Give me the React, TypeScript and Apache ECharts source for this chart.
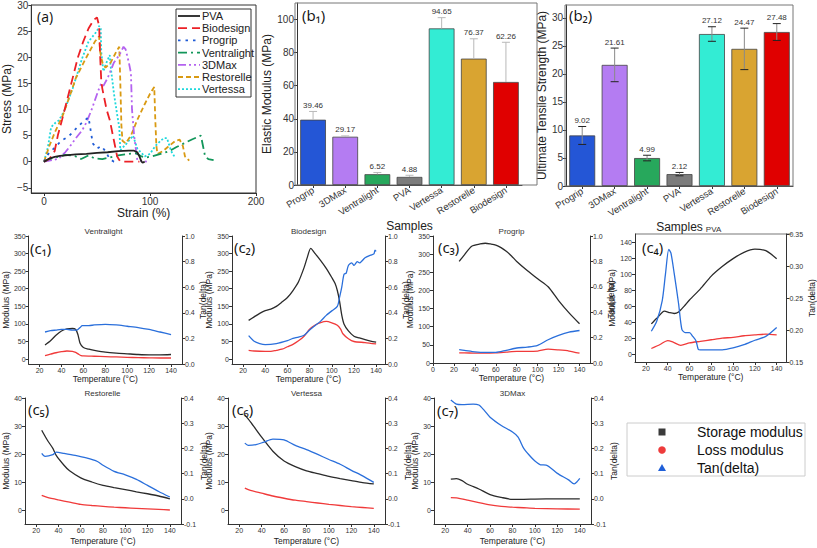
import React, { useEffect, useRef } from "react";
import * as echarts from "echarts";

const FONT = "'Liberation Sans', Arial, sans-serif";

// ---------- (a) tensile curves: [strain %, stress MPa] ----------
const tensileNames = ["PVA", "Biodesign", "Progrip", "Ventralight", "3DMax", "Restorelle", "Vertessa"];
const tensilePVA = [[0,0],[5,0.6],[10,0.9],[15,1.1],[20,1.2],[30,1.4],[40,1.5],[50,1.7],[60,1.8],[70,2],[80,2.1],[85,2.1],[88,1.8],[90,1],[92,0],[93,-0.2],[95,0]];
const tensileBiodesign = [[0,0],[5,0.5],[10,2],[13,5],[17,8],[22,12],[27,16],[32,20],[37,23],[42,25.5],[47,27.2],[50,27.6],[52,26],[53,20],[54,15.5],[55,14],[57,12],[59,10],[62,8],[65,5],[67,3],[69,1],[72,0],[85,0],[90,0]];
const tensileProgrip = [[0,0],[5,1.8],[11,2.8],[16,4],[23,4.8],[31,6.5],[36,7.5],[42,8.5],[44,6],[46,3.5],[50,2.5],[54,3],[58,2],[62,0.5],[66,0],[70,0]];
const tensileVentralight = [[0,0],[5,0.5],[10,0.8],[15,1],[20,1.3],[25,1.2],[30,1],[35,0.5],[38,0.8],[42,1.2],[48,0.6],[55,0.5],[62,0.8],[70,1.2],[80,1.5],[87,1.6],[92,1],[96,0.8],[102,1],[110,1.5],[118,2],[125,2.8],[132,3.5],[140,4.3],[148,5],[150,3],[152,1],[155,0.5],[160,0.3]];
const tensile3DMax = [[0,0],[8,0.3],[14,0.6],[20,1.8],[24,2.8],[30,4.5],[36,6],[40,7.5],[45,10],[51,13.5],[54,15],[56,14.5],[60,16],[63,17.5],[66,19],[71,20.4],[75,22],[77,21.5],[80,19],[82,17],[83,10],[85,5],[88,0.3],[97,0]];
const tensileRestorelle = [[0,0],[5,3],[10,5.5],[18,9],[25,13],[30,16],[40,20],[48,23],[52,24],[53,21],[55,19],[58,18],[63,19],[68,21],[71,22],[72,15],[73,7],[74,4],[77,3.5],[82,5],[88,8],[95,11],[100,13],[104,14.3],[105,8],[106,3],[107,1.5],[112,2],[118,3],[124,4],[128,4.2],[131,3],[133,1],[137,0.2]];
const tensileVertessa = [[0,0],[3.7,2.8],[6.7,6.6],[11,7.5],[14,7.9],[19,9.7],[27,14],[36,19.8],[42,23],[50,25],[52,26],[53.5,25.5],[54,21],[56,17.3],[59,19],[62,20.4],[63,18],[66,13],[69,9],[71,6.6],[72,2.2],[78,3.5],[84,5],[88,2.5],[95,1],[100,1.5],[105,3],[110,4],[113,4.5],[116,4.5],[120,2],[123,1]];
const tensileData = [tensilePVA, tensileBiodesign, tensileProgrip, tensileVentralight, tensile3DMax, tensileRestorelle, tensileVertessa];
const strainTicks = [0, 100, 200];
const stressTicks = [-5, 0, 5, 10, 15, 20, 25, 30];

// ---------- (b) bars ----------
const samples = ["Progrip", "3DMax", "Ventralight", "PVA", "Vertessa", "Restorelle", "Biodesign"];
const modulusValues = [39.46, 29.17, 6.52, 4.88, 94.65, 76.37, 62.26];
const modulusErrors = [5, 0.5, 1, 1, 6.5, 12, 24];
const utsValues = [9.02, 21.61, 4.99, 2.12, 27.12, 24.47, 27.48];
const utsErrors = [1.6, 3, 0.5, 0.3, 1.3, 3.7, 1.5];
const modulusTicks = [0, 20, 40, 60, 80, 100];
const utsTicks = [0, 5, 10, 15, 20, 25, 30];

// ---------- (c) DMA: [temperature °C, value] ----------
const c1Storage = [[25,40],[30,52],[35,68],[40,80],[45,86],[50,87],[53,84],[55,70],[57,45],[60,33],[65,28],[70,25],[80,20],[90,17],[100,15],[110,13],[120,12],[130,12],[140,13]];
const c1Loss = [[25,10],[30,14],[35,18],[40,21],[45,23],[50,22],[53,19],[56,13],[58,10],[60,9],[70,8],[80,7],[90,6],[100,5],[110,4],[120,3.5],[130,3],[140,3]];
const c1Tan = [[25,0.25],[30,0.26],[35,0.265],[40,0.27],[45,0.27],[50,0.265],[54,0.265],[57,0.285],[59,0.3],[65,0.3],[70,0.305],[80,0.31],[90,0.305],[100,0.295],[110,0.285],[120,0.27],[130,0.25],[140,0.23]];

const c2Storage = [[25,110],[30,120],[35,130],[40,138],[45,142],[50,150],[55,162],[60,175],[65,195],[70,220],[75,260],[78,290],[81,315],[85,300],[90,280],[95,258],[100,232],[103,215],[105,195],[107,165],[109,125],[111,100],[115,80],[120,65],[125,60],[130,55],[135,51],[140,48]];
const c2Loss = [[25,25],[30,23],[40,22],[45,22],[50,25],[55,28],[60,35],[65,42],[70,52],[75,65],[80,85],[85,97],[90,104],[95,107],[100,103],[105,96],[108,85],[110,72],[115,58],[120,50],[130,47],[140,43]];
const c2Tan = [[25,0.222],[30,0.178],[35,0.16],[40,0.152],[50,0.16],[60,0.183],[65,0.2],[70,0.21],[75,0.225],[80,0.265],[85,0.3],[90,0.335],[95,0.38],[100,0.415],[105,0.45],[107,0.52],[109,0.6],[111,0.7],[113,0.71],[115,0.77],[118,0.79],[120,0.77],[123,0.8],[125,0.79],[130,0.83],[135,0.85],[138,0.86],[139,0.89],[140,0.88]];

const c3Storage = [[25,280],[30,298],[37,322],[45,328],[50,330],[55,328],[60,325],[65,318],[70,308],[75,295],[80,280],[90,255],[100,232],[110,210],[120,172],[130,138],[140,108]];
const c3Loss = [[25,28],[30,28],[40,27],[50,27],[60,28],[70,30],[80,32],[90,32],[100,33],[110,38],[120,36],[130,33],[140,27]];
const c3Tan = [[25,0.105],[30,0.1],[40,0.088],[50,0.083],[60,0.083],[70,0.1],[80,0.118],[90,0.125],[100,0.139],[110,0.183],[120,0.217],[130,0.243],[140,0.256]];

const c4Storage = [[25,38],[30,45],[37,54],[42,52],[46,51],[50,53],[55,60],[60,68],[70,82],[80,98],[90,110],[100,120],[110,128],[120,132],[130,130],[140,120]];
const c4Loss = [[25,7],[33,12],[40,17],[45,15],[52,11],[60,14],[70,16],[80,18],[90,20],[100,21],[110,23],[120,24],[130,25],[140,24]];
const c4Tan = [[25,0.198],[30,0.214],[35,0.246],[38,0.288],[41,0.326],[43,0.32],[46,0.288],[50,0.241],[53,0.201],[56,0.196],[60,0.196],[63,0.19],[66,0.183],[68,0.17],[70,0.169],[80,0.169],[90,0.169],[100,0.172],[110,0.177],[120,0.184],[130,0.19],[140,0.204]];

const c5Storage = [[25,28.5],[30,25],[35,22],[38,19.5],[45,16],[50,14],[60,11.5],[70,10],[80,8.8],[90,8],[100,7.3],[110,6.5],[120,5.8],[130,5],[140,4]];
const c5Loss = [[25,5.2],[30,4.5],[40,3.6],[50,2.8],[60,2],[70,1.6],[80,1.3],[90,1],[100,0.8],[110,0.6],[120,0.4],[130,0.2],[140,0]];
const c5Tan = [[25,0.18],[28,0.168],[35,0.175],[38,0.185],[45,0.18],[55,0.172],[65,0.162],[75,0.148],[80,0.133],[90,0.109],[100,0.095],[110,0.077],[120,0.053],[130,0.029],[140,0.007]];

const c6Storage = [[25,34],[30,31.5],[40,26],[50,21],[60,17.5],[70,15.5],[80,14],[90,13],[100,12],[110,11.2],[120,10.5],[130,9.8],[140,9.3]];
const c6Loss = [[25,7.8],[30,7],[40,6],[50,5],[60,4.2],[70,3.5],[80,3],[90,2.5],[100,2],[110,1.6],[120,1.2],[130,0.9],[140,0.6]];
const c6Tan = [[25,0.221],[28,0.212],[35,0.215],[42,0.225],[50,0.237],[60,0.234],[70,0.212],[80,0.195],[90,0.176],[100,0.156],[110,0.137],[120,0.113],[130,0.091],[140,0.065]];

const c7Storage = [[25,11],[30,11.2],[35,10.5],[40,9.2],[50,7.5],[60,5.5],[70,4.5],[80,3.8],[90,3.8],[100,3.9],[120,4],[140,4]];
const c7Loss = [[25,4.4],[30,4.3],[40,3.5],[50,2.6],[60,1.8],[70,1.3],[80,1],[90,0.8],[100,0.6],[120,0.4],[140,0.3]];
const c7Tan = [[25,0.392],[30,0.376],[35,0.374],[45,0.376],[50,0.372],[55,0.35],[60,0.324],[70,0.291],[80,0.265],[85,0.245],[90,0.2],[95,0.173],[100,0.15],[105,0.135],[110,0.134],[120,0.101],[130,0.075],[135,0.059],[138,0.07],[140,0.081]];

const tempTicks20 = [20, 40, 60, 80, 100, 120, 140];
const tempTicks0 = [0, 20, 40, 60, 80, 100, 120, 140];
const modTicks350 = [0, 50, 100, 150, 200, 250, 300, 350];
const modTicks140 = [0, 20, 40, 60, 80, 100, 120, 140];
const modTicks40 = [0, 10, 20, 30, 40];
const tanTicks1 = [0, 0.2, 0.4, 0.6, 0.8, 1.0];
const tanTicksPVA = [0.15, 0.2, 0.25, 0.3, 0.35];
const tanTicksRow2 = [-0.1, 0, 0.1, 0.2, 0.3, 0.4];
const dmaLegendNames = ["Storage modulus", "Loss modulus", "Tan(delta)"];

// ---------- styles / layout ----------
const tensileStyles = [
  { color: "#222222", dash: null as any },
  { color: "#ec2026", dash: [9, 5] },
  { color: "#1f5bd6", dash: [2.5, 5] },
  { color: "#12965a", dash: [9, 4, 2, 4] },
  { color: "#b463f0", dash: [8, 3, 2, 3, 2, 3] },
  { color: "#d99a12", dash: [5, 3] },
  { color: "#1ed8dc", dash: [2, 2] },
];
const barColors = ["#2456d6", "#b47cf2", "#27a85c", "#7c7c7c", "#33ecd4", "#d9a431", "#e00000"];
const DMA_COLORS = { storage: "#2b2b2b", loss: "#f03a3a", tan: "#2a6fdb" };

const dmaPanels = [
  { title: "Ventralight", tag: "(c\u2081)", left: 25, top: 236, width: 157, height: 128, xMin: 10, xMax: 150, xTicks: tempTicks20, yMin: -14, yMax: 350, yTicks: modTicks350, rMin: 0, rMax: 1, rTicks: tanTicks1, rDec: 1, storage: c1Storage, loss: c1Loss, tan: c1Tan, tagX: 30, tagY: 248, rGap: 11 },
  { title: "Biodesign", tag: "(c\u2082)", left: 232, top: 236, width: 153, height: 128, xMin: 10, xMax: 148, xTicks: tempTicks20, yMin: -14, yMax: 350, yTicks: modTicks350, rMin: 0, rMax: 1, rTicks: tanTicks1, rDec: 1, storage: c2Storage, loss: c2Loss, tan: c2Tan, tagX: 234, tagY: 247, rGap: 11 },
  { title: "Progrip", tag: "(c\u2083)", left: 433, top: 236, width: 157, height: 127, xMin: 0, xMax: 150, xTicks: tempTicks0, yMin: 0, yMax: 350, yTicks: modTicks350, rMin: 0, rMax: 1, rTicks: tanTicks1, rDec: 1, storage: c3Storage, loss: c3Loss, tan: c3Tan, tagX: 438, tagY: 247, rGap: 11 },
  { title: "PVA", tag: "(c\u2084)", left: 635, top: 234, width: 157, height: 128, xMin: 10, xMax: 149, xTicks: tempTicks20, yMin: -10, yMax: 151, yTicks: modTicks140, rMin: 0.15, rMax: 0.35, rTicks: tanTicksPVA, rDec: 2, storage: c4Storage, loss: c4Loss, tan: c4Tan, tagX: 642, tagY: 247, topBorder: true, rGap: 16 },
  { title: "Restorelle", tag: "(c\u2085)", left: 24, top: 398, width: 157, height: 126, xMin: 10, xMax: 150, xTicks: tempTicks20, yMin: -5, yMax: 40, yTicks: modTicks40, rMin: -0.1, rMax: 0.4, rTicks: tanTicksRow2, rDec: 1, storage: c5Storage, loss: c5Loss, tan: c5Tan, tagX: 28, tagY: 409, rGap: 15 },
  { title: "Vertessa", tag: "(c\u2086)", left: 228, top: 398, width: 157, height: 126, xMin: 10, xMax: 150, xTicks: tempTicks20, yMin: -5, yMax: 40, yTicks: modTicks40, rMin: -0.1, rMax: 0.4, rTicks: tanTicksRow2, rDec: 1, storage: c6Storage, loss: c6Loss, tan: c6Tan, tagX: 232, tagY: 409, rGap: 15 },
  { title: "3DMax", tag: "(c\u2087)", left: 434, top: 398, width: 157, height: 126, xMin: 10, xMax: 150, xTicks: tempTicks20, yMin: -5, yMax: 40, yTicks: modTicks40, rMin: -0.1, rMax: 0.4, rTicks: tanTicksRow2, rDec: 1, storage: c7Storage, loss: c7Loss, tan: c7Tan, tagX: 437, tagY: 410, rGap: 15 },
];

const AX = "#333";
const fmtMinus = (v: number, dec = 0) => {
  const s = Math.abs(v).toFixed(dec);
  return v < 0 ? "\u2212" + s : s;
};

function valAxis(o: any) {
  const { gridIndex, min, max, ticks, fontSize, fmt, name, nameGap, nameSize, position, tickLen } = o;
  return {
    type: "value",
    gridIndex,
    min,
    max,
    position,
    axisLine: { show: true, onZero: false, lineStyle: { color: AX, width: 1 } },
    axisTick: { show: true, customValues: ticks, length: tickLen ?? 3, lineStyle: { color: AX } },
    axisLabel: { customValues: ticks, fontSize, color: "#333", fontFamily: FONT, margin: 3, formatter: fmt },
    splitLine: { show: false },
    name,
    nameLocation: "middle",
    nameGap,
    nameTextStyle: { fontSize: nameSize, color: "#222", fontFamily: FONT },
  };
}

function errorSeries(xi: number, values: number[], errors: number[], lower: boolean, stemColor: string, capColor: string) {
  return {
    type: "custom",
    xAxisIndex: xi,
    yAxisIndex: xi,
    z: 5,
    silent: true,
    data: values.map((v, i) => [i, v, errors[i]]),
    renderItem: (_p: any, api: any) => {
      const i = api.value(0);
      const v = api.value(1);
      const e = api.value(2);
      const top = api.coord([i, v + e]);
      const bot = api.coord([i, lower ? v - e : v]);
      const hw = 4;
      const children: any[] = [
        { type: "line", shape: { x1: top[0], y1: top[1], x2: bot[0], y2: bot[1] }, style: { stroke: stemColor, lineWidth: 1 } },
        { type: "line", shape: { x1: top[0] - hw, y1: top[1], x2: top[0] + hw, y2: top[1] }, style: { stroke: capColor, lineWidth: 1 } },
        {
          type: "text",
          style: { text: v.toFixed(2), x: top[0], y: top[1] - 2, align: "center", verticalAlign: "bottom", fontSize: 8, fill: "#333", fontFamily: FONT },
        },
      ];
      if (lower) {
        children.push({ type: "line", shape: { x1: bot[0] - hw, y1: bot[1], x2: bot[0] + hw, y2: bot[1] }, style: { stroke: capColor, lineWidth: 1 } });
      }
      return { type: "group", children };
    },
  };
}

function buildOption() {
  const grid: any[] = [];
  const xAxis: any[] = [];
  const yAxis: any[] = [];
  const series: any[] = [];
  const graphic: any[] = [];

  // ----- (a) -----
  grid.push({ left: 25, top: 4, width: 231, height: 189, show: true, borderColor: AX, borderWidth: 1, backgroundColor: "transparent" });
  xAxis.push(valAxis({ gridIndex: 0, min: -12, max: 200, ticks: strainTicks, fontSize: 10, fmt: (v: number) => fmtMinus(v), name: "Strain (%)", nameGap: 14, nameSize: 12 }));
  yAxis.push(valAxis({ gridIndex: 0, min: -6, max: 30, ticks: stressTicks, fontSize: 10, fmt: (v: number) => fmtMinus(v), name: "Stress (MPa)", nameGap: 13, nameSize: 12 }));
  tensileNames.forEach((n, k) => {
    const st = tensileStyles[k];
    series.push({
      type: "line",
      name: n,
      xAxisIndex: 0,
      yAxisIndex: 0,
      data: tensileData[k],
      symbol: "none",
      showSymbol: false,
      silent: true,
      lineStyle: { color: st.color, width: 1.8, type: st.dash ? st.dash : "solid" },
      itemStyle: { color: st.color },
      z: 10 - k,
    });
  });
  // legend (a), drawn by hand so line dashes show
  graphic.push({ type: "rect", silent: true, z: 20, shape: { x: 176, y: 9, width: 75, height: 88 }, style: { fill: "#fff", stroke: AX, lineWidth: 1 } });
  tensileNames.forEach((n, i) => {
    const st = tensileStyles[i];
    const y = 16 + 12.2 * i;
    graphic.push({ type: "line", silent: true, z: 21, shape: { x1: 178, y1: y, x2: 200, y2: y }, style: { stroke: st.color, lineWidth: 1.8, lineDash: st.dash || undefined } });
    graphic.push({ type: "text", silent: true, z: 21, x: 202, y, style: { text: n, fontSize: 11, fill: "#222", fontFamily: FONT, align: "left", verticalAlign: "middle" } });
  });

  // ----- (b1) (b2) -----
  const barPanels = [
    { left: 297, top: 3, width: 225, height: 182, max: 110, ticks: modulusTicks, values: modulusValues, errors: modulusErrors, name: "Elastic Modulus (MPa)", nameGap: 18, lower: false, stem: "#b8b8b8", cap: "#b8b8b8" },
    { left: 566, top: 5, width: 227, height: 181, max: 32.3, ticks: utsTicks, values: utsValues, errors: utsErrors, name: "Ultimate Tensile Strength (MPa)", nameGap: 14, lower: true, stem: "#8a8a8a", cap: "#222" },
  ];
  barPanels.forEach((b, j) => {
    const gi = 1 + j;
    grid.push({ left: b.left, top: b.top, width: b.width, height: b.height });
    xAxis.push({
      type: "category",
      gridIndex: gi,
      data: samples,
      axisLine: { show: true, onZero: false, lineStyle: { color: AX } },
      axisTick: { show: true, alignWithLabel: true, length: 3, lineStyle: { color: AX } },
      axisLabel: { rotate: 32, interval: 0, fontSize: 9.5, color: "#333", fontFamily: FONT, margin: 4 },
      name: "Samples",
      nameLocation: "middle",
      nameGap: 30,
      nameTextStyle: { fontSize: 12, color: "#222", fontFamily: FONT },
    });
    yAxis.push(valAxis({ gridIndex: gi, min: 0, max: b.max, ticks: b.ticks, fontSize: 10, fmt: (v: number) => String(v), name: b.name, nameGap: b.nameGap, nameSize: 12 }));
    series.push({
      type: "bar",
      xAxisIndex: gi,
      yAxisIndex: gi,
      barWidth: "80%",
      silent: true,
      data: b.values.map((v, i) => ({ value: v, itemStyle: { color: barColors[i] } })),
      itemStyle: { borderColor: "#444", borderWidth: 0.8 },
      z: 2,
    });
    series.push(errorSeries(gi, b.values, b.errors, b.lower, b.stem, b.cap));
  });
  graphic.push({ type: "rect", silent: true, z: 1, shape: { x: 295, y: 3, width: 242, height: 182 }, style: { fill: "none", stroke: "#777", lineWidth: 1 } });
  graphic.push({ type: "rect", silent: true, z: 1, shape: { x: 565, y: 5, width: 228, height: 181 }, style: { fill: "none", stroke: "#777", lineWidth: 1 } });

  // ----- (c) DMA -----
  dmaPanels.forEach((p, k) => {
    const gi = 3 + k;
    const yl = 3 + 2 * k;
    const yr = yl + 1;
    grid.push({ left: p.left, top: p.top, width: p.width, height: p.height });
    xAxis.push(valAxis({ gridIndex: gi, min: p.xMin, max: p.xMax, ticks: p.xTicks, fontSize: 7, fmt: (v: number) => String(v), name: "Temperature (\u00B0C)", nameGap: k < 4 ? 10 : 12, nameSize: 8.5, tickLen: 3 }));
    yAxis.push(valAxis({ gridIndex: gi, min: p.yMin, max: p.yMax, ticks: p.yTicks, fontSize: 7, fmt: (v: number) => String(v), name: "Modulus (MPa)", nameGap: 15, nameSize: 8.5, position: "left" }));
    yAxis.push(valAxis({ gridIndex: gi, min: p.rMin, max: p.rMax, ticks: p.rTicks, fontSize: 7, fmt: (v: number) => v.toFixed(p.rDec), name: "Tan(delta)", nameGap: p.rGap, nameSize: 8.5, position: "right" }));
    const mk = (name: string, data: number[][], yi: number, color: string) => ({
      type: "line",
      name,
      xAxisIndex: gi,
      yAxisIndex: yi,
      data,
      symbol: "none",
      showSymbol: false,
      silent: true,
      smooth: 0.25,
      lineStyle: { color, width: 1.3 },
      itemStyle: { color },
    });
    series.push(mk(dmaLegendNames[0], p.storage, yl, DMA_COLORS.storage));
    series.push(mk(dmaLegendNames[1], p.loss, yl, DMA_COLORS.loss));
    series.push(mk(dmaLegendNames[2], p.tan, yr, DMA_COLORS.tan));
    graphic.push({ type: "text", silent: true, x: p.left + p.width / 2, y: p.top - 5, style: { text: p.title, fontSize: 8, fill: "#333", fontFamily: FONT, align: "center", verticalAlign: "middle" } });
    graphic.push({ type: "text", silent: true, x: p.tagX, y: p.tagY, style: { text: p.tag, fontSize: 15, fill: "#111", fontFamily: "'Open Sans', " + FONT, align: "left", verticalAlign: "middle" } });
    if ((p as any).topBorder) {
      graphic.push({ type: "line", silent: true, shape: { x1: p.left, y1: p.top, x2: p.left + p.width, y2: p.top }, style: { stroke: "#bbb", lineWidth: 2 } });
    }
  });

  // panel tags a, b1, b2
  graphic.push({ type: "text", silent: true, x: 37, y: 16, style: { text: "(a)", fontSize: 14, fill: "#111", fontFamily: "'Open Sans', " + FONT, align: "left", verticalAlign: "middle" } });
  graphic.push({ type: "text", silent: true, x: 302, y: 15, style: { text: "(b\u2081)", fontSize: 15, fill: "#111", fontFamily: "'Open Sans', " + FONT, align: "left", verticalAlign: "middle" } });
  graphic.push({ type: "text", silent: true, x: 569, y: 15, style: { text: "(b\u2082)", fontSize: 15, fill: "#111", fontFamily: "'Open Sans', " + FONT, align: "left", verticalAlign: "middle" } });

  // DMA legend box
  graphic.push({ type: "rect", silent: true, shape: { x: 627, y: 423, width: 178, height: 53 }, style: { fill: "#fff", stroke: "#ccc", lineWidth: 1 } });
  graphic.push({ type: "rect", silent: true, shape: { x: 658.5, y: 428.5, width: 7, height: 7 }, style: { fill: "#3a3a3a" } });
  graphic.push({ type: "circle", silent: true, shape: { cx: 662, cy: 450, r: 3.8 }, style: { fill: "#ee3b3b" } });
  graphic.push({ type: "polygon", silent: true, shape: { points: [[662, 464], [658, 471], [666, 471]] }, style: { fill: "#1f5fd8" } });
  dmaLegendNames.forEach((t, i) => {
    graphic.push({ type: "text", silent: true, x: 697, y: 432 + i * 18, style: { text: t, fontSize: 14, fill: "#111", fontFamily: FONT, align: "left", verticalAlign: "middle" } });
  });

  return {
    animation: false,
    backgroundColor: "#fff",
    textStyle: { fontFamily: FONT },
    grid,
    xAxis,
    yAxis,
    series,
    graphic,
  };
}

export default function App() {
  const ref = useRef<HTMLDivElement>(null);
  useEffect(() => {
    document.body.style.margin = "0";
    const chart = echarts.init(ref.current as HTMLDivElement, undefined, { renderer: "svg" });
    chart.setOption(buildOption() as any);
    return () => chart.dispose();
  }, []);
  return <div ref={ref} style={{ width: 817, height: 548 }} />;
}
